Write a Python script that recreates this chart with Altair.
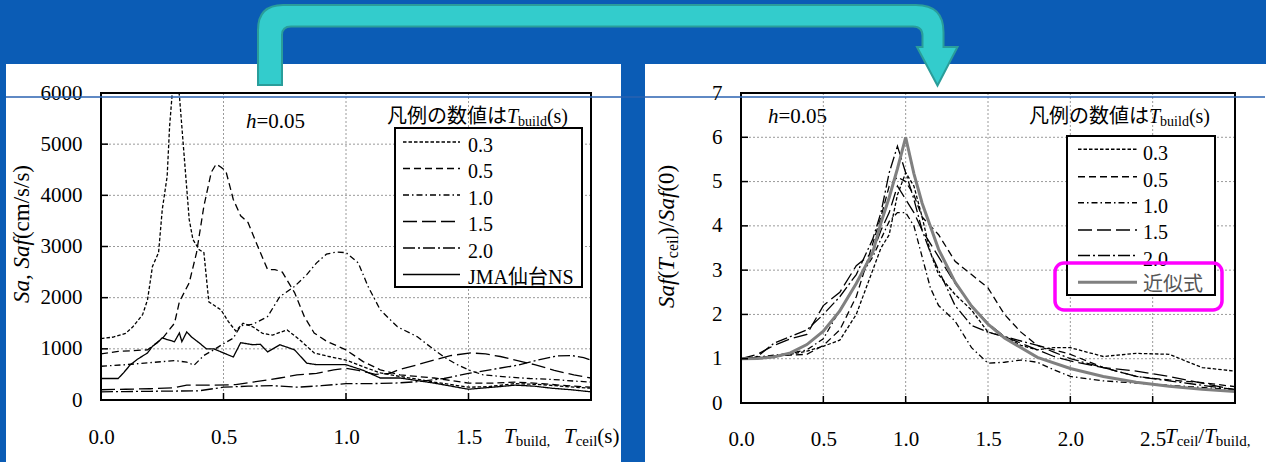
import altair as alt
import pandas as pd

SERIF = "Liberation Serif"
JP = "Noto Sans CJK JP"
MIX = "Liberation Serif, Noto Sans CJK JP"
BLUE = "#0b5cb5"
GRID = "#9a9a9a"
GRAY = "#808080"

# ---------------- left chart data (T_build / T_ceil in s, Sa in cm/s/s) ----------------
L_NAMES = ["0.3", "0.5", "1.0", "1.5", "2.0", "JMA仙台NS"]
L03_T = [0, 0.05, 0.1, 0.13, 0.17, 0.19, 0.21, 0.235, 0.25, 0.27, 0.28, 0.29, 0.3, 0.31, 0.32, 0.335, 0.36,
         0.375, 0.40, 0.42, 0.44, 0.49, 0.52, 0.55, 0.58, 0.62, 0.66, 0.70, 0.76, 0.81, 0.87, 0.93, 1.0,
         1.07, 1.14, 1.22, 1.3, 1.36, 1.43, 1.5, 1.58, 1.69, 1.8, 1.9, 2.0]
L03_V = [1200, 1230, 1300, 1430, 1670, 1960, 2610, 2880, 3720, 4370, 5350, 5950, 6300, 6300, 5950, 5040, 3530,
         3140, 2940, 2880, 1920, 1760, 1530, 1350, 1500, 1430, 1300, 1270, 1370, 1180, 920, 850, 780,
         650, 530, 460, 400, 350, 300, 250, 260, 320, 300, 260, 230]
L05_T = [0, 0.07, 0.19, 0.25, 0.3, 0.32, 0.36, 0.39, 0.42, 0.45, 0.47, 0.49, 0.51, 0.54, 0.57, 0.60, 0.64,
         0.68, 0.71, 0.74, 0.79, 0.83, 0.87, 0.92, 1.0, 1.07, 1.14, 1.22, 1.36, 1.5, 1.6, 1.69, 1.8, 1.9, 2.0]
L05_V = [900, 950, 980, 1200, 1500, 1920, 2290, 2880, 3790, 4450, 4610, 4550, 4470, 3920, 3600, 3470, 3000,
         2550, 2550, 2500, 2100, 1630, 1310, 1150, 980, 750, 590, 490, 430, 330, 330, 350, 320, 280, 250]
L10_T = [0, 0.1, 0.2, 0.3, 0.35, 0.38, 0.42, 0.46, 0.5, 0.54, 0.57, 0.62, 0.68, 0.73, 0.79, 0.84, 0.88,
         0.92, 0.96, 1.0, 1.05, 1.09, 1.14, 1.21, 1.29, 1.36, 1.4, 1.45, 1.5, 1.56, 1.66, 1.75, 1.85, 1.93, 2.0]
L10_V = [660, 690, 730, 770, 740, 680, 870, 980, 1100, 1210, 1450, 1480, 1630, 2020, 2220, 2450, 2680,
         2850, 2890, 2880, 2680, 2220, 1760, 1430, 1240, 980, 840, 700, 590, 490, 450, 420, 400, 370, 350]
L15_T = [0, 0.1, 0.2, 0.3, 0.35, 0.45, 0.55, 0.62, 0.68, 0.73, 0.8, 0.88, 0.95, 1.0, 1.05, 1.12, 1.18,
         1.22, 1.3, 1.36, 1.43, 1.51, 1.57, 1.63, 1.7, 1.77, 1.85, 1.93, 2.0]
L15_V = [200, 210, 220, 240, 290, 290, 300, 350, 390, 430, 490, 520, 590, 620, 580, 500, 520,
         600, 700, 780, 870, 920, 900, 850, 770, 690, 580, 490, 430]
L20_T = [0, 0.1, 0.2, 0.3, 0.4, 0.5, 0.6, 0.7, 0.8, 0.9, 1.0, 1.1, 1.2, 1.3, 1.4, 1.5, 1.6, 1.7, 1.8,
         1.86, 1.92, 1.97, 2.0]
L20_V = [160, 165, 170, 175, 180, 250, 270, 280, 250, 280, 320, 320, 330, 360, 420, 520, 600, 680, 800,
         860, 870, 830, 780]
JMA_T = [0, 0.07, 0.09, 0.12, 0.15, 0.19, 0.21, 0.23, 0.25, 0.27, 0.30, 0.32, 0.33, 0.35, 0.37, 0.40, 0.43,
         0.46, 0.50, 0.54, 0.57, 0.62, 0.65, 0.68, 0.73, 0.79, 0.84, 0.88, 0.94, 1.0, 1.07, 1.14, 1.22,
         1.29, 1.36, 1.43, 1.5, 1.6, 1.69, 1.77, 1.84, 1.92, 2.0]
JMA_V = [420, 420, 520, 690, 800, 920, 1050, 1120, 1215, 1180, 1140, 1310, 1140, 1330, 1230, 1120, 1000,
         1000, 920, 840, 1120, 1080, 1090, 940, 1080, 980, 720, 690, 690, 690, 580, 430, 430,
         380, 330, 270, 210, 250, 290, 270, 230, 200, 160]

# ---------------- right chart data (T_ceil/T_build, Saf(T_ceil)/Saf(0)) ----------------
R_NAMES = ["0.3", "0.5", "1.0", "1.5", "2.0"]
R_GRID = [0, 0.1, 0.2, 0.3, 0.4, 0.5, 0.6, 0.7, 0.8, 0.85, 0.9, 0.95, 1.0, 1.05, 1.1, 1.15, 1.2, 1.3, 1.4,
          1.5, 1.6, 1.7, 1.8, 1.9, 2.0, 2.2, 2.4, 2.6, 2.8, 3.0]
R03_V = [1.0, 1.02, 1.05, 1.1, 1.17, 1.28, 1.42, 2.0, 3.0, 3.5, 3.8, 4.7, 5.2, 4.9, 4.2, 3.4, 2.9, 2.45,
         2.1, 1.6, 1.5, 1.3, 1.2, 1.25, 1.25, 1.05, 1.12, 1.1, 0.8, 0.72]
R05_V = [1.0, 1.03, 1.06, 1.08, 1.1, 1.3, 1.65, 2.4, 3.6, 4.2, 4.9, 5.1, 5.0, 4.7, 4.2, 4.0, 3.8, 3.2,
         2.9, 2.6, 2.0, 1.6, 1.3, 1.2, 1.1, 0.8, 0.6, 0.52, 0.46, 0.37]
R10_V = [1.0, 1.04, 1.08, 1.12, 1.2, 1.45, 2.1, 2.7, 3.3, 3.7, 4.1, 4.3, 4.3, 4.0, 3.3, 2.6, 2.2, 1.85,
         1.25, 0.9, 0.92, 0.97, 0.92, 0.75, 0.6, 0.5, 0.45, 0.4, 0.35, 0.3]
R15_V = [1.0, 1.1, 1.3, 1.45, 1.55, 2.2, 2.5, 3.1, 3.4, 3.9, 4.3, 4.9, 4.6, 4.3, 3.9, 3.6, 3.3, 2.7,
         2.2, 1.8, 1.5, 1.35, 1.2, 1.05, 0.95, 0.8, 0.72, 0.6, 0.45, 0.3]
R20_V = [1.0, 1.05, 1.35, 1.5, 1.65, 2.0, 2.4, 2.9, 3.7, 4.3, 5.2, 5.8, 5.2, 4.6, 3.9, 3.4, 3.0, 2.2,
         1.75, 1.6, 1.5, 1.4, 1.3, 1.15, 1.0, 0.8, 0.6, 0.5, 0.4, 0.3]
APPROX_NAME = "近似式"
APPROX_R = [0, 0.1, 0.2, 0.3, 0.4, 0.5, 0.6, 0.7, 0.8, 0.85, 0.9, 0.95, 1.0, 1.05, 1.1, 1.2, 1.3, 1.4,
            1.5, 1.6, 1.8, 2.0, 2.2, 2.4, 2.6, 2.8, 3.0]
APPROX_V = [1.0, 1.005, 1.04, 1.13, 1.32, 1.62, 2.08, 2.7, 3.4, 4.07, 4.64, 5.29, 6.0, 5.18, 4.51, 3.47,
            2.73, 2.19, 1.78, 1.47, 1.03, 0.78, 0.6, 0.47, 0.38, 0.31, 0.26]

L_X_TICKS = [0.0, 0.5, 1.0, 1.5]
L_Y_TICKS = [0, 1000, 2000, 3000, 4000, 5000, 6000]
R_X_TICKS = [0.0, 0.5, 1.0, 1.5, 2.0, 2.5]
R_Y_TICKS = [0, 1, 2, 3, 4, 5, 6, 7]
DASHES = [[3.5, 2], [7, 4], [6, 3, 1.5, 3], [14, 5], [12, 3, 2, 3], [1, 0]]

# ---------------- layout (pixels) ----------------
W1, H1 = 490, 307      # left plot area (origin at 101, 93)
W2, H2 = 494, 310      # right plot area (origin at 741, 93)
GAP = 150

ONE = pd.DataFrame({"k": [0]})

W_REG = {' ': 250, '(': 333, ')': 333, ',': 250, '.': 250, '/': 278, '=': 564, 'A': 722, 'J': 389,
         'M': 889, 'N': 722, 'S': 556, 'T': 611, 'a': 444, 'b': 500, 'c': 444, 'd': 500, 'e': 444,
         'f': 333, 'h': 500, 'i': 278, 'l': 278, 'm': 778, 's': 389, 'u': 500}
W_IT = {' ': 250, ',': 250, 'S': 500, 'a': 500, 'f': 278, 'T': 556, 'h': 500}


def tw(s, size, style, font):
    if font == JP:
        return size * len(s)
    tab = W_IT if style == "italic" else W_REG
    return sum(tab.get(c, 500) for c in s) * size / 1000.0


def rect(x, x2, y, y2, **kw):
    return alt.Chart(ONE).mark_rect(**kw).encode(
        x=alt.value(x), x2=alt.value(x2), y=alt.value(y), y2=alt.value(y2))


def hline(x, x2, y, **kw):
    return alt.Chart(ONE).mark_rule(**kw).encode(x=alt.value(x), x2=alt.value(x2), y=alt.value(y))


def text(s, x, y, size=21, style="normal", font=SERIF, angle=0, color="black"):
    kw = dict(text=s, font=font, fontSize=size, fontStyle=style, align="left",
              baseline="alphabetic", color=color)
    if angle:
        kw["angle"] = angle
    return alt.Chart(ONE).mark_text(**kw).encode(x=alt.value(x), y=alt.value(y))


def run(pieces, x, y, vertical=False):
    out, cum = [], 0.0
    for p in pieces:
        s, size, style, font, dy = p
        if vertical:
            out.append(text(s, x + dy, y - cum, size, style, font, angle=270))
        else:
            out.append(text(s, x + cum, y + dy, size, style, font))
        cum += tw(s, size, style, font)
    return out


def long_df(names, xs, ys):
    frames = []
    for n, xv, yv in zip(names, xs, ys):
        frames.append(pd.DataFrame({"x": xv, "y": yv, "s": n}))
    return pd.concat(frames, ignore_index=True)


def axis_x(values, pad):
    return alt.Axis(values=values, format=".1f", title=None, grid=False, domain=False, ticks=False,
                    tickSize=0, labelPadding=pad, labelFont=SERIF, labelFontSize=21,
                    labelColor="black", labelFlush=False, labelOverlap=False, zindex=1)


def axis_y(values, pad):
    return alt.Axis(values=values, format="d", title=None, grid=False, domain=False, ticks=False,
                    tickSize=0, labelPadding=pad, labelFont=SERIF, labelFontSize=21,
                    labelColor="black", labelFlush=False, labelOverlap=False, zindex=1)


def grid_layers(xs, ys, xsc, ysc, ax, ay):
    gx = alt.Chart(pd.DataFrame({"v": xs})).mark_rule(
        color=GRID, strokeDash=[2, 2], strokeWidth=1).encode(x=alt.X("v:Q", scale=xsc, axis=ax))
    gy = alt.Chart(pd.DataFrame({"v": ys})).mark_rule(
        color=GRID, strokeDash=[2, 2], strokeWidth=1).encode(y=alt.Y("v:Q", scale=ysc, axis=ay))
    return [gx, gy]


def tick_layers(xs, ys, xsc, ysc, ax, ay, H):
    tx = alt.Chart(pd.DataFrame({"v": xs})).mark_rule(color="black", strokeWidth=1.5).encode(
        x=alt.X("v:Q", scale=xsc, axis=ax), y=alt.value(H), y2=alt.value(H - 7))
    ty = alt.Chart(pd.DataFrame({"v": ys})).mark_rule(color="black", strokeWidth=1.5).encode(
        y=alt.Y("v:Q", scale=ysc, axis=ay), x=alt.value(0), x2=alt.value(7))
    return [tx, ty]


# ================= LEFT CHART =================
xL = alt.Scale(domain=[0, 2], nice=False, zero=False)
yL = alt.Scale(domain=[0, 6000], nice=False)
axL = axis_x(L_X_TICKS, 26)
ayL = axis_y(L_Y_TICKS, 19)
dfL = long_df(L_NAMES, [L03_T, L05_T, L10_T, L15_T, L20_T, JMA_T],
              [L03_V, L05_V, L10_V, L15_V, L20_V, JMA_V])

left_layers = [
    rect(-101, 1165, -93, 369, color=BLUE),
    rect(-95, 520, -29, 369, color="white"),
]
left_layers += grid_layers(L_X_TICKS[1:], L_Y_TICKS[1:-1], xL, yL, axL, ayL)
left_layers.append(
    alt.Chart(dfL).mark_line(color="black", strokeWidth=1.3, clip=True).encode(
        x=alt.X("x:Q", scale=xL, axis=axL),
        y=alt.Y("y:Q", scale=yL, axis=ayL),
        strokeDash=alt.StrokeDash("s:N", scale=alt.Scale(domain=L_NAMES, range=DASHES), legend=None),
    )
)
left_layers += tick_layers(L_X_TICKS[1:], L_Y_TICKS[1:-1], xL, yL, axL, ayL, H1)
left_layers.append(rect(0, W1, 0, H1, filled=False, stroke="black", strokeWidth=2))
# legend
left_layers.append(rect(294, 481, 35, 194, fill="white", stroke="black", strokeWidth=2))
L_LINE_Y = [49, 75.5, 102, 128.5, 155, 181.5]
L_TEXT_Y = [59, 85, 112, 138, 165, 191]
for i, n in enumerate(L_NAMES):
    left_layers.append(hline(302, 359, L_LINE_Y[i], color="black", strokeWidth=1.4, strokeDash=DASHES[i]))
    left_layers.append(text(n, 367, L_TEXT_Y[i], 20, font=MIX))
left_layers += run([("凡例の数値は", 20, "normal", JP, 0), ("T", 20, "italic", SERIF, 0),
                    ("build", 14, "normal", SERIF, 3), ("(s)", 20, "normal", SERIF, 0)], 286, 30)
left_layers += run([("h", 21, "italic", SERIF, 0), ("=0.05", 21, "normal", SERIF, 0)], 145, 35)
left_layers += run([("T", 21, "italic", SERIF, 0), ("build,", 15, "normal", SERIF, 3)], 403, 350)
left_layers += run([("T", 21, "italic", SERIF, 0), ("ceil", 15, "normal", SERIF, 3),
                    ("(s)", 21, "normal", SERIF, 0)], 463, 350)
left_layers += run([("Sa, Saf", 23, "italic", SERIF, 0), ("(cm/s/s)", 23, "normal", SERIF, 0)],
                   -72, 210, vertical=True)

left = alt.layer(*left_layers).properties(width=W1, height=H1)

# ================= RIGHT CHART =================
xR = alt.Scale(domain=[0, 3], nice=False, zero=False)
yR = alt.Scale(domain=[0, 7], nice=False)
axR = axis_x(R_X_TICKS, 25)
ayR = axis_y(R_Y_TICKS, 19)
dfR = long_df(R_NAMES, [R_GRID] * 5, [R03_V, R05_V, R10_V, R15_V, R20_V])
dfA = pd.DataFrame({"x": APPROX_R, "y": APPROX_V})

right_layers = [rect(-96, 525, -29, 369, color="white")]
right_layers += grid_layers(R_X_TICKS[1:], R_Y_TICKS[1:-1], xR, yR, axR, ayR)
right_layers.append(
    alt.Chart(dfR).mark_line(color="black", strokeWidth=1.3, clip=True).encode(
        x=alt.X("x:Q", scale=xR, axis=axR),
        y=alt.Y("y:Q", scale=yR, axis=ayR),
        strokeDash=alt.StrokeDash("s:N", scale=alt.Scale(domain=R_NAMES, range=DASHES[:5]), legend=None),
    )
)
right_layers.append(
    alt.Chart(dfA).mark_line(color=GRAY, strokeWidth=3, clip=True).encode(
        x=alt.X("x:Q", scale=xR, axis=axR), y=alt.Y("y:Q", scale=yR, axis=ayR))
)
right_layers += tick_layers(R_X_TICKS[1:], R_Y_TICKS[1:-1], xR, yR, axR, ayR, H2)
right_layers.append(rect(0, W2, 0, H2, filled=False, stroke="black", strokeWidth=2))
# legend
right_layers.append(rect(326, 474, 43, 202, fill="white", stroke="black", strokeWidth=2))
R_LINE_Y = [56.3, 83.7, 109.7, 137, 162.5]
R_TEXT_Y = [67, 93.5, 119.5, 146, 172.5]
for i, n in enumerate(R_NAMES):
    right_layers.append(hline(337, 396, R_LINE_Y[i], color="black", strokeWidth=1.4, strokeDash=DASHES[i]))
    right_layers.append(text(n, 402, R_TEXT_Y[i], 20))
right_layers.append(hline(337, 396, 189.3, color=GRAY, strokeWidth=3))
right_layers.append(text(APPROX_NAME, 402, 197.6, 20, font=JP, color="#555555"))
right_layers.append(rect(314, 481, 170, 217, filled=False, stroke="#ff00ff", strokeWidth=3.5,
                         cornerRadius=9))
right_layers += run([("凡例の数値は", 20, "normal", JP, 0), ("T", 20, "italic", SERIF, 0),
                     ("build", 14, "normal", SERIF, 3), ("(s)", 20, "normal", SERIF, 0)], 288, 30)
right_layers += run([("h", 21, "italic", SERIF, 0), ("=0.05", 21, "normal", SERIF, 0)], 27, 30)
right_layers += run([("T", 21, "italic", SERIF, 0), ("ceil", 15, "normal", SERIF, 3),
                     ("/", 21, "normal", SERIF, 0), ("T", 21, "italic", SERIF, 0),
                     ("build,", 15, "normal", SERIF, 3)], 424, 350)
right_layers += run([("Saf", 23, "italic", SERIF, 0), ("(", 23, "normal", SERIF, 0),
                     ("T", 23, "italic", SERIF, 0), ("ceil", 16, "normal", SERIF, 4),
                     (")/", 23, "normal", SERIF, 0), ("Saf", 23, "italic", SERIF, 0),
                     ("(0)", 23, "normal", SERIF, 0)], -67, 215, vertical=True)

# arrow (decoration) as a custom symbol path, 1 path unit = 100 px
CX, CY = 600, 45


def P(x, y):
    return f"{(x - CX) / 100:.4f},{(y - CY) / 100:.4f}"


ARROW = ("M" + P(258, 85) + "L" + P(258, 30) + "Q" + P(258, 5) + " " + P(283, 5) +
         "L" + P(916, 5) + "Q" + P(943.5, 5) + " " + P(943.5, 32) +
         "L" + P(943.5, 47) + "L" + P(957.5, 47) + "L" + P(937.5, 85.5) + "L" + P(917, 47) +
         "L" + P(922.5, 47) + "L" + P(922.5, 36) + "Q" + P(922.5, 26.5) + " " + P(913, 26.5) +
         "L" + P(291, 26.5) + "Q" + P(282, 26.5) + " " + P(282, 35) + "L" + P(282, 85) + "Z")
right_layers.append(
    alt.Chart(ONE).mark_point(shape=ARROW, size=40000, filled=True, fill="#33cccc", stroke="#2a9d9a",
                              strokeWidth=2, opacity=1).encode(x=alt.value(CX - 741), y=alt.value(CY - 93))
)
right_layers.append(hline(-735, 524, 4, color="#2a62b0", strokeWidth=1.5))

right = alt.layer(*right_layers).properties(width=W2, height=H2)

chart = alt.hconcat(left, right, spacing=GAP, bounds="flush").properties(
    padding=0, background=BLUE).configure_view(strokeWidth=0)

chart.save("out.html", embed_options={"renderer": "svg", "actions": False})
